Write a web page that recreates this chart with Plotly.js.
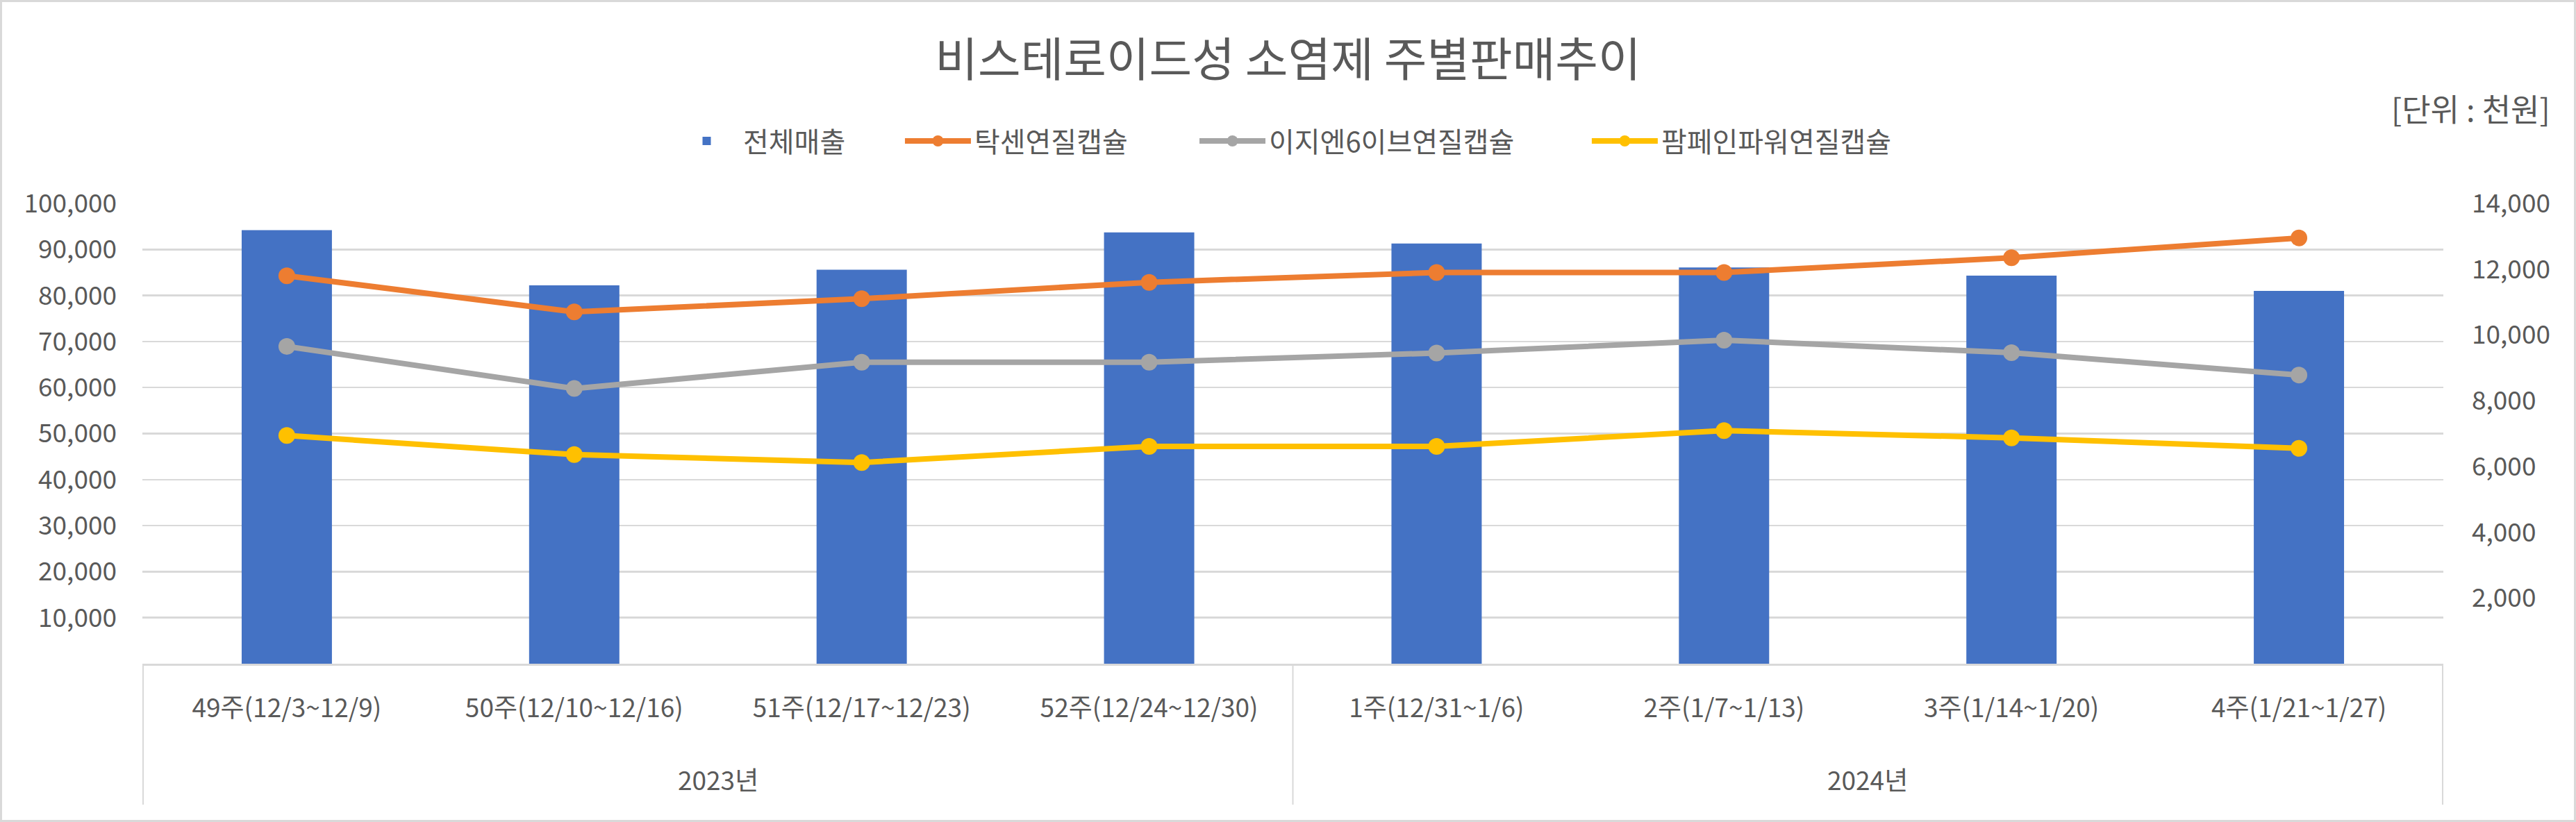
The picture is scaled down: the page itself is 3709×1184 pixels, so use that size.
<!DOCTYPE html>
<html>
<head>
<meta charset="utf-8">
<script src="https://cdn.plot.ly/plotly-3.0.1.min.js"></script>
<style>
  body { margin: 0; background: #ffffff; }
  #chart {
    width: 3709px;
    height: 1184px;
    box-sizing: border-box;
    border: 3px solid #d9d9d9;
  }
</style>
</head>
<body>
<div id="chart"></div>
<script>
// ===============================
// DATA (단위 : 천원)
// ===============================

let yearLabels = ['2023년', '2023년', '2023년', '2023년', '2024년', '2024년', '2024년', '2024년'];

let weekLabels = [
    '49주(12/3~12/9)',
    '50주(12/10~12/16)',
    '51주(12/17~12/23)',
    '52주(12/24~12/30)',
    '1주(12/31~1/6)',
    '2주(1/7~1/13)',
    '3주(1/14~1/20)',
    '4주(1/21~1/27)'
];

let totalSales = [94200, 82200, 85600, 93700, 91300, 86100, 84300, 81000];

let taxenSales = [11800, 10700, 11100, 11600, 11900, 11900, 12350, 12950];

let easyn6Sales = [9650, 8370, 9170, 9170, 9450, 9840, 9460, 8780];

let pampainSales = [6940, 6360, 6120, 6610, 6610, 7090, 6870, 6550];

let leftTicks = [10000, 20000, 30000, 40000, 50000, 60000, 70000, 80000, 90000, 100000];

let rightTicks = [2000, 4000, 6000, 8000, 10000, 12000, 14000];


// ===============================
// STYLE
// ===============================

let fontFamily = '"Noto Sans CJK KR", "Noto Sans", sans-serif';
let textColor = '#595959';
let gridColor = '#d9d9d9';

// plot area height in px (used to place things below / above it)
let plotH = 663;

function lineTrace(name, values, color, legendId) {

    return {
        type: 'scatter',
        mode: 'lines+markers',
        name: name,
        legend: legendId,
        x: weekLabels,
        y: values,
        yaxis: 'y2',
        line: { color: color, width: 8 },
        marker: { color: color, size: 24 }
    };
}

let traces = [

    {
        type: 'bar',
        name: '전체매출',
        legend: 'legend',
        x: weekLabels,
        y: totalSales,
        marker: { color: '#4472c4' }
    },

    lineTrace('탁센연질캡슐', taxenSales, '#ed7d31', 'legend2'),

    lineTrace('이지엔6이브연질캡슐', easyn6Sales, '#a5a5a5', 'legend3'),

    lineTrace('팜페인파워연질캡슐', pampainSales, '#ffc000', 'legend4')
];


// one legend box per entry, so each entry sits where Excel put it
function legendAt(xPaper) {

    return {
        orientation: 'h',
        x: xPaper,
        xanchor: 'left',
        y: 1 + 90 / plotH,
        yanchor: 'middle',
        font: { family: fontFamily, size: 40, color: textColor },
        itemwidth: 95,
        bgcolor: 'rgba(0,0,0,0)'
    };
}


// ===============================
// YEAR GROUPS (2nd level of x axis)
// ===============================

let years = [...new Set(yearLabels)];

let yearAnnotations = years.map(function (yr) {

    let idx = [];
    yearLabels.forEach(function (v, i) { if (v === yr) idx.push(i); });

    return {
        text: yr,
        xref: 'x',
        yref: 'paper',
        x: (idx[0] + idx[idx.length - 1]) / 2,
        y: -166 / plotH,
        yanchor: 'middle',
        showarrow: false,
        font: { family: fontFamily, size: 37, color: textColor }
    };
});

let dividerPositions = [-0.5];

yearLabels.forEach(function (v, i) {
    if (i > 0 && v !== yearLabels[i - 1]) dividerPositions.push(i - 0.5);
});

dividerPositions.push(yearLabels.length - 0.5);

let dividers = dividerPositions.map(function (xv) {

    return {
        type: 'line',
        xref: 'x',
        yref: 'paper',
        x0: xv,
        x1: xv,
        y0: 0,
        y1: -203 / plotH,
        line: { color: gridColor, width: 2 }
    };
});


let layout = {

    width: 3703,
    height: 1178,

    margin: { l: 202, r: 188, t: 290, b: 225 },

    paper_bgcolor: '#ffffff',
    plot_bgcolor: '#ffffff',

    font: { family: fontFamily, color: textColor, size: 37 },

    title: {
        text: '비스테로이드성 소염제 주별판매추이',
        font: { family: fontFamily, size: 67, color: textColor },
        x: 0.5,
        xanchor: 'center',
        y: 1 - 84 / 1178,
        yanchor: 'middle'
    },

    bargap: 0.686,

    showlegend: true,

    legend: legendAt(0.2294),
    legend2: legendAt(0.3299),
    legend3: legendAt(0.4579),
    legend4: legendAt(0.6284),

    xaxis: {
        type: 'category',
        showline: true,
        linecolor: gridColor,
        linewidth: 3,
        showgrid: false,
        ticks: '',
        ticklabelstandoff: 30,
        tickfont: { family: fontFamily, size: 37, color: textColor }
    },

    yaxis: {
        range: [0, 100000],
        tickvals: leftTicks,
        tickformat: ',',
        showgrid: true,
        gridcolor: gridColor,
        gridwidth: 2.5,
        zeroline: false,
        showline: false,
        ticks: '',
        ticklabelstandoff: 36,
        tickfont: { family: fontFamily, size: 37, color: textColor }
    },

    yaxis2: {
        range: [0, 14000],
        tickvals: rightTicks,
        tickformat: ',',
        overlaying: 'y',
        side: 'right',
        showgrid: false,
        zeroline: false,
        showline: false,
        ticks: '',
        ticklabelstandoff: 40,
        tickfont: { family: fontFamily, size: 37, color: textColor }
    },

    shapes: dividers,

    annotations: yearAnnotations.concat([
        {
            text: '[단위 : 천원]',
            xref: 'paper',
            yref: 'paper',
            x: 1.047,
            xanchor: 'right',
            y: 1 + (290 - 152) / plotH,
            yanchor: 'middle',
            showarrow: false,
            font: { family: fontFamily, size: 45, color: textColor }
        }
    ])
};

Plotly.newPlot('chart', traces, layout, { displayModeBar: false, staticPlot: true });
</script>
</body>
</html>
